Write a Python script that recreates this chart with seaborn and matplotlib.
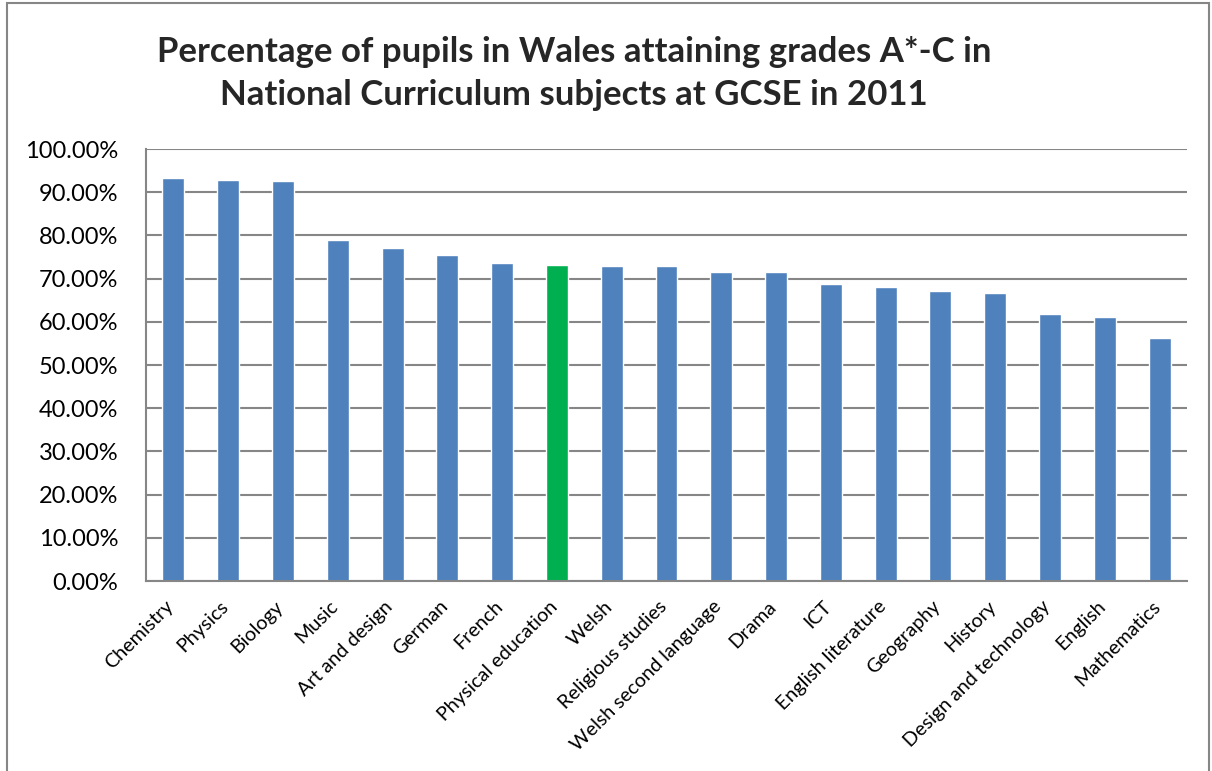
import matplotlib
matplotlib.use("Agg")
import matplotlib.pyplot as plt
import matplotlib.transforms as mtransforms
import seaborn as sns
import pandas as pd
from matplotlib.patches import Rectangle
from matplotlib.ticker import FuncFormatter

subjects = ["Chemistry", "Physics", "Biology", "Music", "Art and design", "German",
            "French", "Physical education", "Welsh", "Religious studies",
            "Welsh second language", "Drama", "ICT", "English literature",
            "Geography", "History", "Design and technology", "English", "Mathematics"]
pct = [93.4, 92.8, 92.5, 78.9, 77.0, 75.5, 73.7, 73.1, 73.0, 72.9,
       71.5, 71.5, 68.7, 68.1, 67.1, 66.6, 61.7, 61.2, 56.3]
highlight = "Physical education"

blue = "#4F81BD"
green = "#00B050"
grid_grey = "#868686"

df = pd.DataFrame({"subject": subjects, "pct": pct})
colors = [green if s == highlight else blue for s in subjects]

sns.set_style("white")
plt.rcParams["font.family"] = ["Lato", "DejaVu Sans"]

fig = plt.figure(figsize=(12.12, 7.71), dpi=100)
ax = fig.add_axes([146 / 1212, 190 / 771, 1041 / 1212, 432 / 771])

sns.barplot(data=df, x="subject", y="pct", hue="subject", palette=colors,
            legend=False, width=0.4, saturation=1, ax=ax)

ax.set_ylim(0, 100)
ax.set_xlim(-0.5, len(subjects) - 0.5)
ax.set_yticks(range(0, 101, 10))
ax.yaxis.set_major_formatter(FuncFormatter(lambda v, _: f"{v:.2f}%"))
ax.yaxis.grid(True, color=grid_grey, linewidth=1.5)
ax.set_axisbelow(True)
ax.set_xlabel("")
ax.set_ylabel("")

for side in ["top", "right"]:
    ax.spines[side].set_visible(False)
for side in ["left", "bottom"]:
    ax.spines[side].set_color(grid_grey)
    ax.spines[side].set_linewidth(1.5)

ax.tick_params(axis="y", length=0, pad=20, labelsize=17, labelcolor="black")
ax.tick_params(axis="x", length=0, pad=12, labelsize=14.2, labelcolor="black")
shift = mtransforms.ScaledTranslation(-6 / 72, 0, fig.dpi_scale_trans)
for lab in ax.get_xticklabels():
    lab.set_rotation(45)
    lab.set_ha("right")
    lab.set_rotation_mode("anchor")
    lab.set_transform(lab.get_transform() + shift)

fig.text(574 / 1212, 1 - 73.5 / 771,
         "Percentage of pupils in Wales attaining grades A*-C in\nNational Curriculum subjects at GCSE in 2011",
         ha="center", va="center", fontsize=25, fontweight="bold", linespacing=1.45)

fig.patches.append(Rectangle((7 / 1212, -0.01), 1202 / 1212, 1 - 3 / 771 + 0.01,
                             transform=fig.transFigure, fill=False,
                             edgecolor=grid_grey, linewidth=1.5))

fig.savefig("out.png", dpi=100)
